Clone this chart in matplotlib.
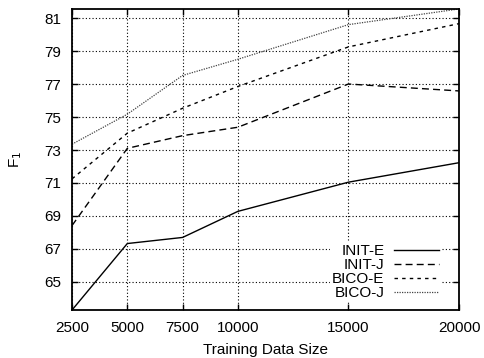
import matplotlib.pyplot as plt
import numpy as np

plt.rcParams['font.family'] = ['Liberation Sans', 'DejaVu Sans']

# data
sizes = [2500, 5000, 7500, 10000, 15000, 20000]
init_e = [63.3, 67.33, 67.7, 69.28, 71.05, 72.23]
init_j = [68.42, 73.1, 73.87, 74.38, 77.0, 76.58]
bico_e = [71.25, 74.02, 75.53, 76.85, 79.25, 80.66]
bico_j = [73.35, 75.17, 77.52, 78.5, 80.6, 81.55]
yticks = [65, 67, 69, 71, 73, 75, 77, 79, 81]

fig = plt.figure(figsize=(4.84, 3.58), dpi=100)
ax = fig.add_axes([0.1488, 0.134, 0.7996, 0.841])

ax.plot(sizes, init_e, color='black', lw=1.0, ls='-', label='INIT-E')
ax.plot(sizes, init_j, color='black', lw=1.0, ls=(0, (5, 3)), label='INIT-J')
ax.plot(sizes, bico_e, color='black', lw=1.0, ls=(0, (2.5, 3)), label='BICO-E')
ax.plot(sizes, bico_j, color='#444444', lw=0.9, ls=(0, (1, 1)), label='BICO-J')

ax.set_xlim(sizes[0], sizes[-1])
ax.set_ylim(min(init_e), max(bico_j))
ax.set_xticks(sizes)
ax.set_yticks(yticks)
ax.grid(True, color='black', ls=(0, (1, 2)), lw=0.8)

ax.tick_params(direction='in', length=4.5, width=1.0, top=True, right=True,
               labelsize=11, pad=8)
for s in ax.spines.values():
    s.set_linewidth(1.3)

ax.set_xlabel('Training Data Size', fontsize=11, labelpad=6)
ax.set_ylabel('F$_1$', fontsize=11, labelpad=14)

leg = ax.legend(loc='lower right', bbox_to_anchor=(0.975, 0.0), markerfirst=False,
                frameon=True, fancybox=False, framealpha=1, edgecolor='none',
                fontsize=11, handlelength=3.0, labelspacing=0.0,
                borderpad=0.15, handletextpad=0.6)

fig.savefig('out.png', dpi=100)
